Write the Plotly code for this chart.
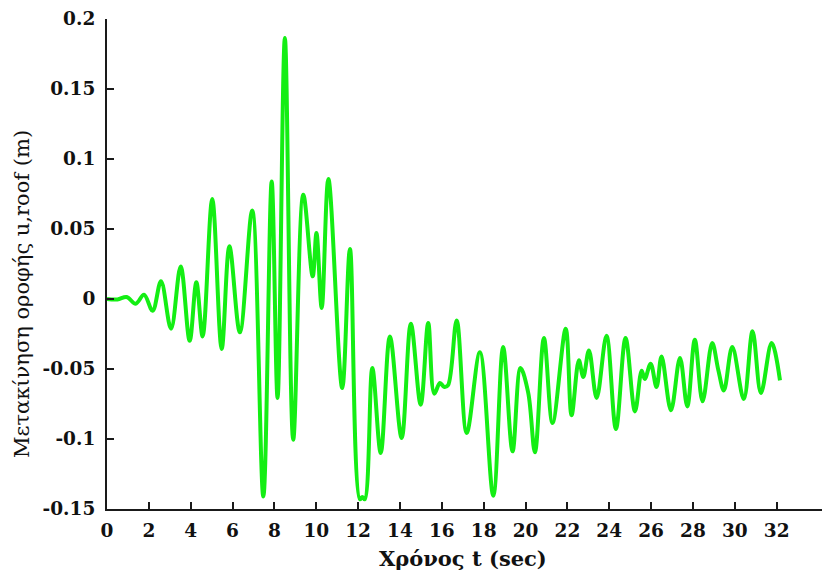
import plotly.graph_objects as go

t_sec = [0.0, 0.5, 0.94, 1.37, 1.77, 2.18, 2.58, 3.06, 3.52, 3.95, 4.27, 4.57,
         5.03, 5.48, 5.85, 6.35, 6.94, 7.47, 7.87, 8.15, 8.50, 8.90, 9.38, 9.83,
         10.01, 10.26, 10.58, 11.24, 11.61, 12.08, 12.2, 12.32, 12.68, 13.08,
         13.52, 14.08, 14.52, 14.99, 15.35, 15.64, 15.91, 16.12, 16.3, 16.71,
         17.19, 17.82, 18.46, 18.93, 19.38, 19.76, 20.13, 20.45, 20.88, 21.29,
         21.92, 22.20, 22.55, 22.76, 23.03, 23.40, 23.87, 24.32, 24.78, 25.23,
         25.55, 25.70, 25.98, 26.26, 26.50, 26.95, 27.38, 27.73, 28.09, 28.46,
         28.92, 29.21, 29.48, 29.88, 30.43, 30.85, 31.25, 31.76, 32.16]
u_roof = [0.0, -0.0003, 0.0014, -0.0034, 0.003, -0.0084, 0.0126, -0.0212, 0.0233,
          -0.0298, 0.0119, -0.0267, 0.0714, -0.0357, 0.0376, -0.0238, 0.0633,
          -0.141, 0.084, -0.0707, 0.1864, -0.1005, 0.0745, 0.0162, 0.0471,
          -0.0064, 0.0857, -0.0636, 0.0357, -0.143, -0.1415, -0.143, -0.0493,
          -0.11, -0.0267, -0.0993, -0.0176, -0.0755, -0.0171, -0.0676, -0.06,
          -0.0629, -0.0615, -0.0153, -0.0957, -0.0381, -0.1405, -0.0343, -0.1088,
          -0.0493, -0.0671, -0.1095, -0.0279, -0.0886, -0.0212, -0.0831, -0.0438,
          -0.0557, -0.0367, -0.0707, -0.0262, -0.0929, -0.0279, -0.0803, -0.0512,
          -0.0571, -0.0462, -0.0629, -0.041, -0.0795, -0.0421, -0.0767, -0.0291,
          -0.0731, -0.0314, -0.0505, -0.0653, -0.0343, -0.0714, -0.0231, -0.0671,
          -0.0314, -0.0581]

x_ticks = list(range(0, 33, 2))
x_tick_text = [str(v) for v in x_ticks]
y_ticks = [-0.15, -0.1, -0.05, 0, 0.05, 0.1, 0.15, 0.2]
y_tick_text = ["-0.15", "-0.1", "-0.05", "0", "0.05", "0.1", "0.15", "0.2"]

x_title = "Χρόνος t (sec)"
y_title = "Μετακίνηση οροφής u,roof (m)"

font_family = "DejaVu Serif"
axis_color = "#1a1a1a"
text_color = "#111111"

fig = go.Figure()
fig.add_trace(go.Scatter(
    x=t_sec, y=u_roof, mode="lines",
    line=dict(color="#14ee14", width=4, shape="spline", smoothing=1.0),
    hoverinfo="skip", showlegend=False,
))

fig.update_layout(
    width=822, height=563,
    margin=dict(l=99, r=0, t=11, b=62),
    paper_bgcolor="white", plot_bgcolor="white",
    font=dict(family=font_family, size=17, color=text_color, weight="bold"),
    xaxis=dict(
        range=[0, 34.55], tickvals=x_ticks, ticktext=x_tick_text,
        showgrid=False, zeroline=False,
        showline=True, linecolor=axis_color, linewidth=2,
        ticks="inside", ticklen=7, tickwidth=2, tickcolor=axis_color,
        tickfont=dict(family=font_family, size=18.5, weight="bold", color=text_color),
        ticklabelstandoff=4,
    ),
    yaxis=dict(
        range=[-0.15, 0.2], tickvals=y_ticks, ticktext=y_tick_text,
        showgrid=False, zeroline=False,
        showline=True, linecolor=axis_color, linewidth=2,
        ticks="inside", ticklen=7, tickwidth=2, tickcolor=axis_color,
        tickfont=dict(family=font_family, size=18.5, weight="bold", color=text_color),
        ticklabelstandoff=6,
    ),
    annotations=[
        dict(text=x_title, xref="paper", yref="paper", x=(463 - 107) / 723, y=-(558 - 509) / 490,
             xanchor="center", yanchor="middle", showarrow=False,
             font=dict(family=font_family, size=21, weight="bold", color=text_color)),
        dict(text=y_title, xref="paper", yref="paper", x=-(107 - 22) / 723, y=(509 - 294) / 490,
             xanchor="center", yanchor="middle", showarrow=False, textangle=-90,
             font=dict(family=font_family, size=21, weight="normal", color=text_color)),
    ],
)

fig.write_html("out.html")
